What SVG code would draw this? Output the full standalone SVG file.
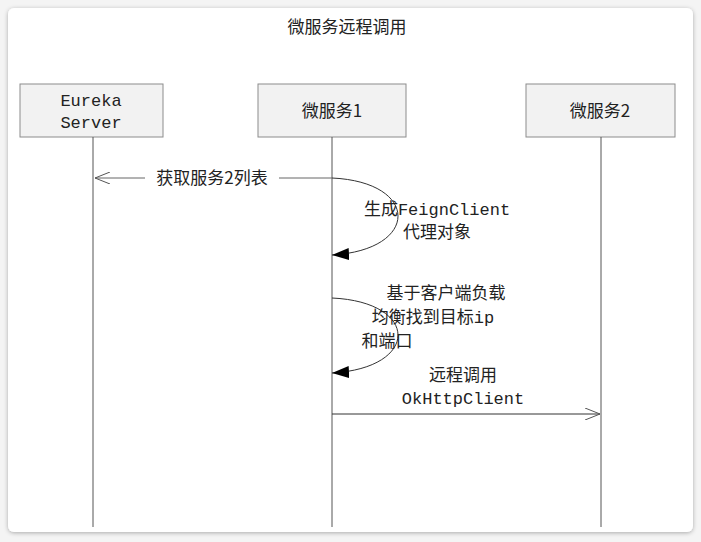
<svg xmlns="http://www.w3.org/2000/svg" width="701" height="542" viewBox="0 0 701 542">
<defs>
<style>
.box{fill:#f2f2f2;stroke:#8c8c8c;stroke-width:1}
.life{stroke:#555;stroke-width:1;fill:none}
.t{font-family:"Liberation Mono","Noto Sans CJK SC",monospace;font-size:17px;fill:#222}
.c{font-family:"Noto Sans CJK SC",sans-serif;font-size:17px;fill:#222}
.ln{stroke:#333;stroke-width:1;fill:none}
</style>
<marker id="open" markerWidth="16" markerHeight="12" refX="15" refY="6" orient="auto" markerUnits="userSpaceOnUse"><path d="M0,0 L15,6 L0,12" fill="none" stroke="#555"/></marker>
<marker id="fill" markerWidth="18" markerHeight="12" refX="17" refY="6" orient="auto" markerUnits="userSpaceOnUse"><path d="M0,0 L17,6 L0,12 Z" fill="#000"/></marker>
<filter id="sh" x="-5%" y="-5%" width="110%" height="110%"><feDropShadow dx="0" dy="1" stdDeviation="2" flood-color="#000" flood-opacity="0.3"/></filter>
</defs>
<rect x="0" y="0" width="701" height="542" fill="#f4f4f4"/>
<rect x="8" y="8" width="685" height="524" rx="6" fill="#fff" filter="url(#sh)"/>
<text x="347" y="33" text-anchor="middle" class="c">微服务远程调用</text>
<g id="eureka"><rect class="box" x="20" y="84" width="143" height="53"/><text x="91" y="106" text-anchor="middle" class="t">Eureka</text><text x="91" y="128" text-anchor="middle" class="t">Server</text><line class="life" x1="93" y1="137" x2="93" y2="527"/></g>
<g id="svc1"><rect class="box" x="258" y="84" width="148" height="53"/><text x="332" y="117" text-anchor="middle" class="c">微服务1</text><line class="life" x1="332" y1="137" x2="332" y2="527"/></g>
<g id="svc2"><rect class="box" x="526" y="84" width="149" height="53"/><text x="600" y="117" text-anchor="middle" class="c">微服务2</text><line class="life" x1="601" y1="137" x2="601" y2="527"/></g>
<g id="connectors">
<line x1="332" y1="178" x2="95" y2="178" stroke="#666" marker-end="url(#open)"/>
<rect x="145" y="168" width="134" height="20" fill="#fff"/>
<text x="212" y="184" text-anchor="middle" class="c">获取服务2列表</text>
<path class="ln" d="M332,178 C420,182 420,250 332,255" marker-end="url(#fill)"/>
<text x="437" y="215" text-anchor="middle" class="t"><tspan font-family="Noto Sans CJK SC">生成</tspan>FeignClient</text>
<text x="437" y="238" text-anchor="middle" class="c">代理对象</text>
<path class="ln" d="M332,298 C420,302 420,368 332,373" marker-end="url(#fill)"/>
<text x="446" y="299" text-anchor="middle" class="c">基于客户端负载</text>
<text x="433" y="323" text-anchor="middle" class="t"><tspan font-family="Noto Sans CJK SC">均衡找到目标</tspan>ip</text>
<text x="387" y="347" text-anchor="middle" class="c">和端口</text>
<line x1="332" y1="414" x2="600" y2="414" stroke="#333" marker-end="url(#open)"/>
<text x="463" y="381" text-anchor="middle" class="c">远程调用</text>
<text x="463" y="404" text-anchor="middle" class="t">OkHttpClient</text>
</g>
</svg>
